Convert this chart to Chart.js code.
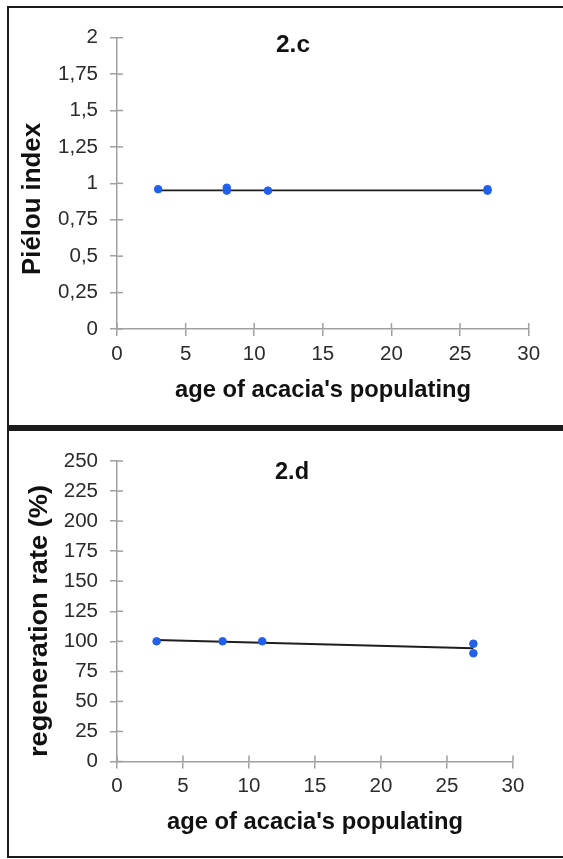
<!DOCTYPE html>
<html>
<head>
<meta charset="utf-8">
<script src="https://cdn.jsdelivr.net/npm/chart.js@4.4.1/dist/chart.umd.min.js"></script>
<style>
  body { margin: 0; background: #fff; width: 563px; height: 859px; overflow: hidden; position: relative; }
  canvas { position: absolute; left: 0; }
  .frame { position: absolute; left: 7px; width: 620px; border: 2px solid #1c1c1c; box-sizing: border-box; pointer-events: none; }
</style>
</head>
<body>
<canvas id="chartC" width="563" height="427" style="top:0"></canvas>
<canvas id="chartD" width="563" height="431" style="top:428px"></canvas>
<div class="frame" style="top:6px;height:422px;border-bottom-width:3px"></div>
<div class="frame" style="top:428px;height:430px;border-top-width:3px"></div>

<script>
// 2.c - Piélou index
const ageC = [3, 8, 8, 11, 27, 27];
const pielouC = [0.96, 0.97, 0.95, 0.95, 0.96, 0.95];
const trendAgeC = [3, 27];
const trendC = [0.952, 0.952];
const yTicksC = [0, 0.25, 0.5, 0.75, 1, 1.25, 1.5, 1.75, 2];

// 2.d - regeneration rate
const ageD = [3, 8, 11, 27, 27];
const regenD = [100, 100, 100, 98, 90];
const trendAgeD = [3, 27];
const trendD = [101.1, 94.2];
const yTicksD = [0, 25, 50, 75, 100, 125, 150, 175, 200, 225, 250];

const xTicks = [0, 5, 10, 15, 20, 25, 30];

const FONT = 'Liberation Sans, Arial, sans-serif';
const axisGrey = '#a0a0a0';
const pointBlue = '#2160ea';

// ticks crossing the axis (inner half)
const innerTicks = {
  id: 'innerTicks',
  beforeDatasetsDraw(chart) {
    const { ctx, chartArea, scales } = chart;
    ctx.save();
    ctx.strokeStyle = axisGrey;
    ctx.lineWidth = 1.5;
    scales.x.ticks.forEach(t => {
      const px = scales.x.getPixelForValue(t.value);
      ctx.beginPath();
      ctx.moveTo(px, chartArea.bottom);
      ctx.lineTo(px, chartArea.bottom - 6);
      ctx.stroke();
    });
    scales.y.ticks.forEach(t => {
      const py = scales.y.getPixelForValue(t.value);
      ctx.beginPath();
      ctx.moveTo(chartArea.left, py);
      ctx.lineTo(chartArea.left + 6, py);
      ctx.stroke();
    });
    ctx.restore();
  }
};

// titles drawn as text
const panelText = {
  id: 'panelText',
  afterDraw(chart, args, opts) {
    const ctx = chart.ctx;
    (opts.items || []).forEach(t => {
      ctx.save();
      ctx.font = t.font;
      ctx.fillStyle = '#111';
      ctx.textAlign = 'center';
      ctx.textBaseline = 'middle';
      ctx.translate(t.x, t.y);
      if (t.rotate) ctx.rotate(-Math.PI / 2);
      const w = ctx.measureText(t.text).width;
      if (t.width) ctx.scale(t.width / w, 1);
      ctx.fillText(t.text, 0, 0);
      ctx.restore();
    });
  }
};

function makeChart(id, cfg) {
  const canvas = document.getElementById(id);
  const points = cfg.ages.map((a, i) => ({ x: a, y: cfg.values[i] }));
  const trend = cfg.trendAges.map((a, i) => ({ x: a, y: cfg.trend[i] }));

  return new Chart(canvas.getContext('2d'), {
    type: 'scatter',
    data: {
      datasets: [
        {
          data: points,
          backgroundColor: pointBlue,
          borderColor: pointBlue,
          pointRadius: 3.8,
          showLine: false,
          order: 0
        },
        {
          type: 'line',
          data: trend,
          borderColor: '#1e1e1e',
          borderWidth: 1.8,
          pointRadius: 0,
          fill: false,
          order: 1
        }
      ]
    },
    options: {
      responsive: false,
      animation: false,
      events: [],
      layout: { padding: { top: cfg.padTop, right: cfg.padRight, left: 0, bottom: 0 } },
      plugins: {
        legend: { display: false },
        tooltip: { enabled: false },
        panelText: { items: cfg.texts }
      },
      scales: {
        x: {
          type: 'linear',
          min: 0,
          max: 30,
          afterBuildTicks: s => { s.ticks = xTicks.map(v => ({ value: v })); },
          afterFit: s => { s.height = cfg.xHeight; },
          ticks: { color: '#2b2b2b', font: { family: FONT, size: 20.5 }, padding: 6 },
          grid: { drawOnChartArea: false, drawTicks: true, tickLength: 7, color: axisGrey, lineWidth: 1.5 },
          border: { color: axisGrey, width: 1.5 }
        },
        y: {
          min: 0,
          max: cfg.yMax,
          afterBuildTicks: s => { s.ticks = cfg.yTicks.map(v => ({ value: v })); },
          afterFit: s => { s.width = 117; },
          ticks: {
            color: '#2b2b2b',
            font: { family: FONT, size: 20.5 },
            padding: 12,
            callback: v => String(v).replace('.', ',')
          },
          grid: { drawOnChartArea: false, drawTicks: true, tickLength: 7, color: axisGrey, lineWidth: 1.5 },
          border: { color: axisGrey, width: 1.5 }
        }
      }
    },
    plugins: [innerTicks, panelText]
  });
}

makeChart('chartC', {
  ages: ageC, values: pielouC, trendAges: trendAgeC, trend: trendC,
  yMax: 2, yTicks: yTicksC,
  padTop: 37.7, padRight: 34.3, xHeight: 427 - 329,
  texts: [
    { text: '2.c', x: 293, y: 45, font: 'bold 24px ' + FONT, width: 34 },
    { text: "age of acacia's populating", x: 323, y: 390, font: 'bold 24px ' + FONT, width: 296 },
    { text: 'Piélou index', x: 33, y: 199, font: 'bold 25px ' + FONT, width: 152, rotate: true }
  ]
});

makeChart('chartD', {
  ages: ageD, values: regenD, trendAges: trendAgeD, trend: trendD,
  yMax: 250, yTicks: yTicksD,
  padTop: 33, padRight: 50, xHeight: 431 - 333.5,
  texts: [
    { text: '2.d', x: 292, y: 44, font: 'bold 24px ' + FONT, width: 34 },
    { text: "age of acacia's populating", x: 315, y: 394, font: 'bold 24px ' + FONT, width: 296 },
    { text: 'regeneration rate (%)', x: 40, y: 193, font: 'bold 26px ' + FONT, width: 272, rotate: true }
  ]
});
</script>
</body>
</html>
